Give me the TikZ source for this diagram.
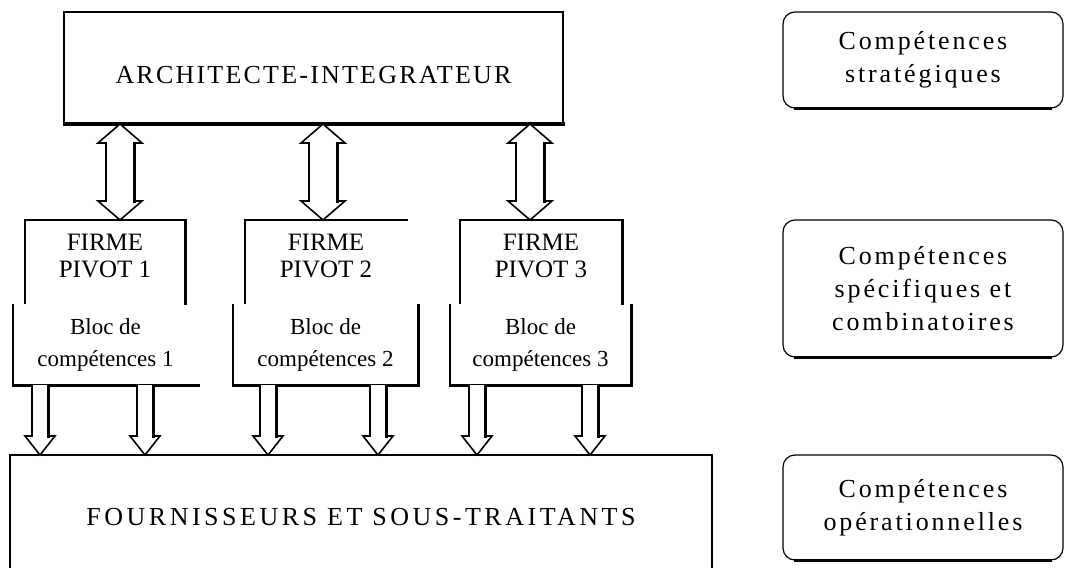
\documentclass[tikz,border=0pt]{standalone}
\usepackage{fontspec}
\setmainfont{Liberation Serif}
\newfontfamily\widefont{Liberation Serif}[LetterSpace=11]
\newfontfamily\titlefont{Liberation Serif}[LetterSpace=8.5]
\newfontfamily\basefont{Liberation Serif}[LetterSpace=13.5]
\usetikzlibrary{calc}

% two-headed hollow block arrow between a lower edge (#1) and an upper edge (#2)
\newcommand\twoway[2]{%
  \draw[arrowline] let \p1=(#1), \p2=(#2) in
    (\x2,\y1) -- (\x2+22pt,\y1-19pt) -- (\x2+14pt,\y1-19pt) -- (\x2+14pt,\y2+19pt)
    -- (\x2+22pt,\y2+19pt) -- (\x2,\y2) -- (\x2-22pt,\y2+19pt) -- (\x2-14pt,\y2+19pt)
    -- (\x2-14pt,\y1-19pt) -- (\x2-22pt,\y1-19pt) -- cycle;
  \draw[heavyline] let \p1=(#1), \p2=(#2) in
    (\x2+14pt,\y1-19pt) -- (\x2+14pt,\y2+19pt);}

% one-headed hollow block arrow pointing down from #1 to the level of #2
\newcommand\downarr[2]{%
  \draw[arrowline] let \p1=(#1), \p2=(#2) in
    (\x1-8pt,\y1) -- (\x1-8pt,\y2+19pt) -- (\x1-15pt,\y2+19pt) -- (\x1,\y2)
    -- (\x1+15pt,\y2+19pt) -- (\x1+8pt,\y2+19pt) -- (\x1+8pt,\y1);
  \draw[heavyline] let \p1=(#1), \p2=(#2) in
    (\x1+8pt,\y1) -- (\x1+8pt,\y2+19pt);}

\begin{document}
\begin{tikzpicture}[x=1pt,y=-1pt,
  frame/.style={inner sep=0pt, outer sep=0pt, align=center},
  thinline/.style={line width=1.2pt, line cap=rect},
  heavyline/.style={line width=3pt, line cap=rect},
  arrowline/.style={line width=1.6pt, line join=miter, fill=white},
  lbl/.style={align=center, inner sep=0pt},
  rbox/.style={draw, line width=1.2pt, rounded corners=12pt, inner sep=0pt,
    align=center, font=\widefont\fontsize{26}{33}\selectfont}]

\useasboundingbox (0,0) rectangle (1067,567);
\fill[white] (0,0) rectangle (1067,567);

% top level
\node[frame, minimum width=499, minimum height=112,
  label={[lbl, yshift=-7pt, font=\titlefont\fontsize{26}{30}\selectfont]center:ARCHITECTE-INTEGRATEUR}]
  (arch) at (313.5,68) {};
\draw[thinline] (arch.south west) |- (arch.north east) -- (arch.south east);
\draw[heavyline] (arch.south west) -- (arch.south east);

% pivot firms
\tikzset{firmtext/.style={lbl, yshift=5pt, font=\fontsize{25}{27}\selectfont}}
\node[frame, minimum width=160, minimum height=83,
  label={[firmtext]center:{FIRME\\PIVOT 1}}] (firme1) at (105,261.5) {};
\node[frame, minimum width=162, minimum height=83,
  label={[firmtext]center:{FIRME\\PIVOT 2}}] (firme2) at (326,261.5) {};
\node[frame, minimum width=162, minimum height=83,
  label={[firmtext]center:{FIRME\\PIVOT 3}}] (firme3) at (541,261.5) {};

\draw[thinline] (firme1.south west) |- (firme1.north east);
\draw[heavyline] (firme1.north east) -- (firme1.south east);
\draw[thinline] (firme2.south west) |- (firme2.north east);
\draw[thinline] (firme3.south west) |- (firme3.north east);
\draw[heavyline] (firme3.north east) -- (firme3.south east);

% skill blocks
\tikzset{bloc/.style={frame, minimum height=80, font=\fontsize{23}{32}\selectfont}}
\node[bloc, minimum width=185] (bloc1) at (105.5,345) {Bloc de\\compétences 1};
\node[bloc, minimum width=185] (bloc2) at (325.5,345) {Bloc de\\compétences 2};
\node[bloc, minimum width=181] (bloc3) at (540.5,345) {Bloc de\\compétences 3};

\draw[thinline] (bloc1.north west) -- (bloc1.south west);
\draw[heavyline] (bloc1.south west) -- (bloc1.south east);
\draw[thinline] (bloc2.north west) -- (bloc2.south west);
\draw[heavyline] (bloc2.south west) -| (bloc2.north east);
\draw[thinline] (bloc3.north west) -- (bloc3.south west);
\draw[heavyline] (bloc3.south west) -| (bloc3.north east);

% suppliers
\node[frame, minimum width=702, minimum height=124,
  label={[lbl, font=\basefont\fontsize{26}{30}\selectfont]center:FOURNISSEURS ET SOUS-TRAITANTS}]
  (four) at (361,517) {};
\draw[thinline] (four.south west) |- (four.north east) -- (four.south east);

% links between levels
\twoway{arch.south}{[xshift=15pt]firme1.north}
\twoway{arch.south}{[xshift=-3pt]firme2.north}
\twoway{arch.south}{[xshift=-11pt]firme3.north}

\downarr{[xshift=-65.5pt]bloc1.south}{four.north}
\downarr{[xshift=39.5pt]bloc1.south}{four.north}
\downarr{[xshift=-57.5pt]bloc2.south}{four.north}
\downarr{[xshift=52.5pt]bloc2.south}{four.north}
\downarr{[xshift=-63.5pt]bloc3.south}{four.north}
\downarr{[xshift=49.5pt]bloc3.south}{four.north}

% competence levels
\node[rbox, minimum width=280, minimum height=96] (strat) at (923,60)
  {Compétences\\stratégiques};
\node[rbox, minimum width=280, minimum height=137] (spec) at (923,288.5)
  {Compétences\\spécifiques et\\combinatoires};
\node[rbox, minimum width=280, minimum height=105] (oper) at (923,507.5)
  {Compétences\\opérationnelles};
\foreach \b in {strat,spec,oper}
  \draw[heavyline, line cap=butt] ([xshift=12pt]\b.south west) -- ([xshift=-12pt]\b.south east);

\end{tikzpicture}
\end{document}
